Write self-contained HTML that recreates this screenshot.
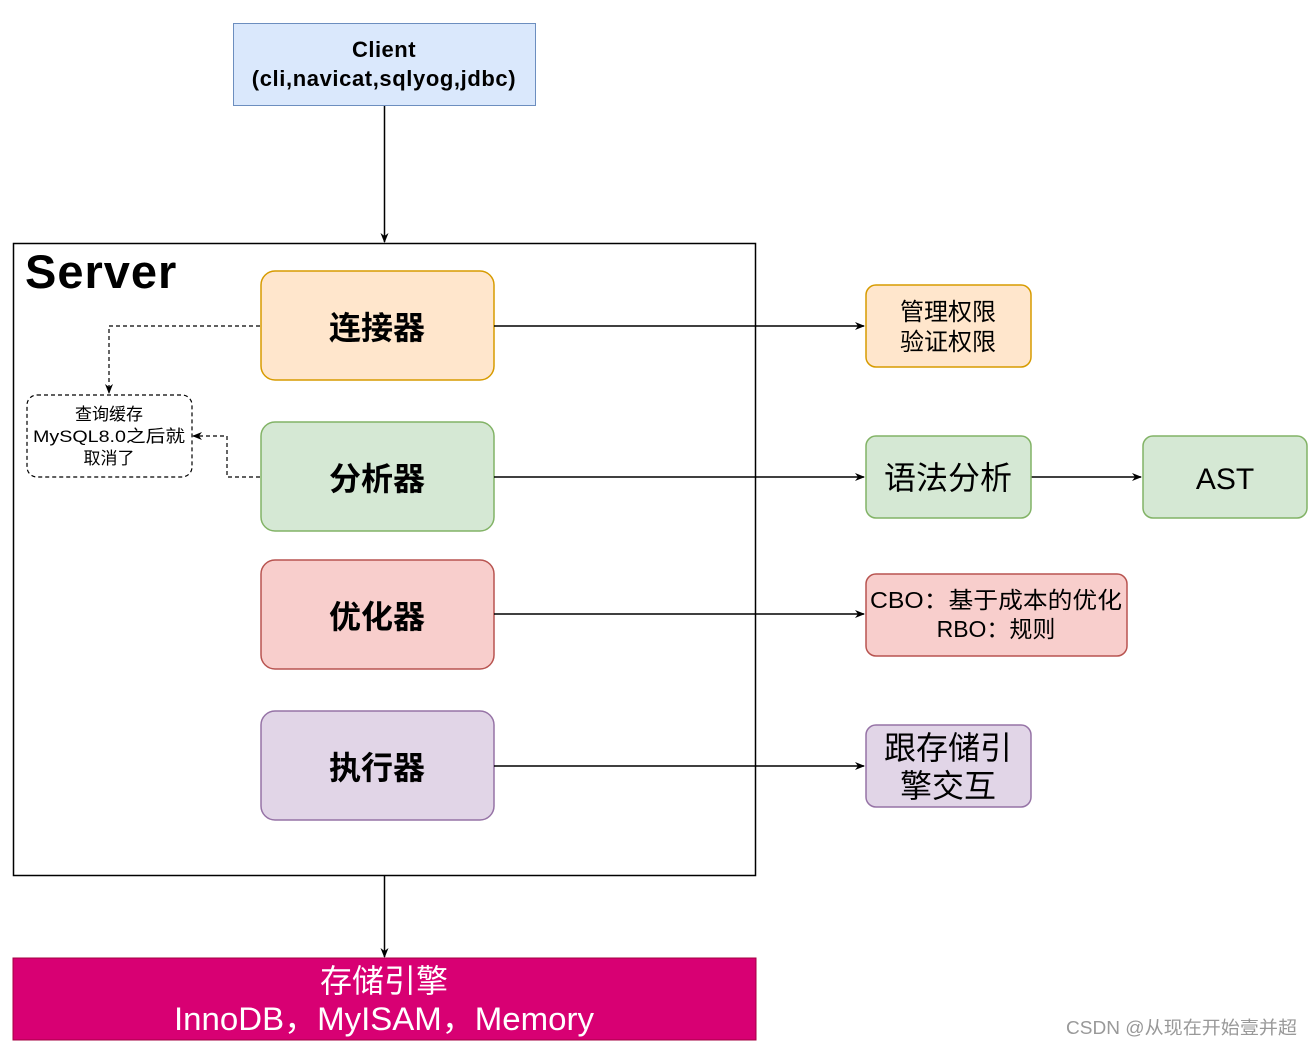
<!DOCTYPE html>
<html><head><meta charset="utf-8"><style>
body{margin:0;background:#fff;}
svg text{font-family:"Liberation Sans","Noto Sans CJK SC",sans-serif;}
</style></head><body>
<svg width="1312" height="1046" viewBox="0 0 1312 1046" xmlns="http://www.w3.org/2000/svg">
<defs><marker id="a" markerWidth="10" markerHeight="10" refX="9" refY="5" orient="auto" markerUnits="userSpaceOnUse"><path d="M0,1 L10,5 L0,9 L3,5 Z" fill="#000"/></marker></defs>
<rect x="233.5" y="23.5" width="302" height="82" fill="#dae8fc" stroke="#6c8ebf"/>
<text x="384" y="57" text-anchor="middle" font-size="22" font-weight="bold" letter-spacing="0.5">Client</text>
<text x="384" y="86" text-anchor="middle" font-size="22" font-weight="bold" letter-spacing="0.6">(cli,navicat,sqlyog,jdbc)</text>
<line x1="384.5" y1="106" x2="384.5" y2="242" stroke="#000" stroke-width="1.5" marker-end="url(#a)"/>
<rect x="13.5" y="243.5" width="742" height="632" fill="none" stroke="#000" stroke-width="1.5"/>
<text x="25" y="288" font-size="47" font-weight="bold" letter-spacing="1">Server</text>
<rect x="261" y="271" width="233" height="109" rx="14" fill="#ffe6cc" stroke="#d79b00" stroke-width="1.5"/>
<text x="377" y="339" text-anchor="middle" font-size="32" font-weight="bold">连接器</text>
<rect x="261" y="422" width="233" height="109" rx="14" fill="#d5e8d4" stroke="#82b366" stroke-width="1.5"/>
<text x="377" y="490" text-anchor="middle" font-size="32" font-weight="bold">分析器</text>
<rect x="261" y="560" width="233" height="109" rx="14" fill="#f8cecc" stroke="#b85450" stroke-width="1.5"/>
<text x="377" y="628" text-anchor="middle" font-size="32" font-weight="bold">优化器</text>
<rect x="261" y="711" width="233" height="109" rx="14" fill="#e1d5e7" stroke="#9673a6" stroke-width="1.5"/>
<text x="377" y="779" text-anchor="middle" font-size="32" font-weight="bold">执行器</text>
<rect x="27" y="395" width="165" height="82" rx="10" fill="none" stroke="#000" stroke-dasharray="4 3" stroke-width="1.2"/>
<text x="109" y="420" text-anchor="middle" font-size="17">查询缓存</text>
<text x="109" y="442" text-anchor="middle" font-size="17" textLength="152" lengthAdjust="spacingAndGlyphs">MySQL8.0之后就</text>
<text x="109" y="464" text-anchor="middle" font-size="17">取消了</text>
<path d="M260,326 H109 V393" fill="none" stroke="#000" stroke-dasharray="4 3" stroke-width="1.2" marker-end="url(#a)"/>
<path d="M260,477 H227 V436 H193" fill="none" stroke="#000" stroke-dasharray="4 3" stroke-width="1.2" marker-end="url(#a)"/>
<line x1="494" y1="326" x2="864" y2="326" stroke="#000" stroke-width="1.5" marker-end="url(#a)"/>
<line x1="494" y1="477" x2="864" y2="477" stroke="#000" stroke-width="1.5" marker-end="url(#a)"/>
<line x1="494" y1="614" x2="864" y2="614" stroke="#000" stroke-width="1.5" marker-end="url(#a)"/>
<line x1="494" y1="766" x2="864" y2="766" stroke="#000" stroke-width="1.5" marker-end="url(#a)"/>
<line x1="1031" y1="477" x2="1141" y2="477" stroke="#000" stroke-width="1.5" marker-end="url(#a)"/>
<rect x="866" y="285" width="165" height="82" rx="10" fill="#ffe6cc" stroke="#d79b00" stroke-width="1.5"/>
<text x="948" y="320" text-anchor="middle" font-size="24">管理权限</text>
<text x="948" y="350" text-anchor="middle" font-size="24">验证权限</text>
<rect x="866" y="436" width="165" height="82" rx="10" fill="#d5e8d4" stroke="#82b366" stroke-width="1.5"/>
<text x="948" y="489" text-anchor="middle" font-size="32">语法分析</text>
<rect x="1143" y="436" width="164" height="82" rx="10" fill="#d5e8d4" stroke="#82b366" stroke-width="1.5"/>
<text x="1225" y="489" text-anchor="middle" font-size="30">AST</text>
<rect x="866" y="574" width="261" height="82" rx="10" fill="#f8cecc" stroke="#b85450" stroke-width="1.5"/>
<text x="996" y="608" text-anchor="middle" font-size="23" textLength="252" lengthAdjust="spacingAndGlyphs">CBO：基于成本的优化</text>
<text x="996" y="637" text-anchor="middle" font-size="23">RBO：规则</text>
<rect x="866" y="725" width="165" height="82" rx="10" fill="#e1d5e7" stroke="#9673a6" stroke-width="1.5"/>
<text x="948" y="759" text-anchor="middle" font-size="32">跟存储引</text>
<text x="948" y="797" text-anchor="middle" font-size="32">擎交互</text>
<line x1="384.5" y1="876" x2="384.5" y2="957" stroke="#000" stroke-width="1.5" marker-end="url(#a)"/>
<rect x="13" y="958" width="743" height="82" fill="#d80073" stroke="#a50040"/>
<text x="384" y="992" text-anchor="middle" font-size="32" fill="#fff">存储引擎</text>
<text x="384" y="1030" text-anchor="middle" font-size="32" fill="#fff" textLength="420" lengthAdjust="spacingAndGlyphs">InnoDB，MyISAM，Memory</text>
<text x="1297" y="1034" text-anchor="end" font-size="18" fill="#999" textLength="231" lengthAdjust="spacingAndGlyphs">CSDN @从现在开始壹并超</text>
</svg>
</body></html>
